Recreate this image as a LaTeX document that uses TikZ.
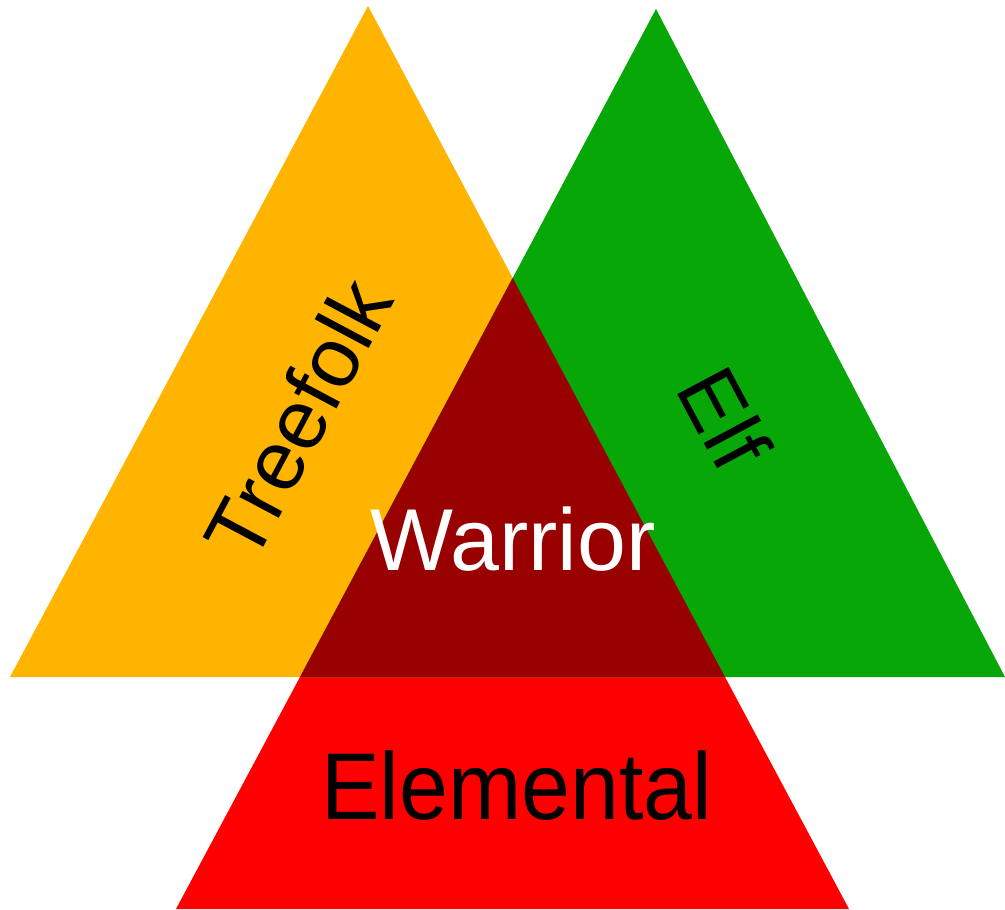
\documentclass[tikz,border=0pt]{standalone}
\usepackage{fontspec}
\setmainfont{Liberation Sans}
\definecolor{treefolkcol}{RGB}{255,180,0}
\definecolor{elfcol}{RGB}{8,167,8}
\definecolor{warriorcol}{RGB}{153,0,0}
\definecolor{elementalcol}{RGB}{255,0,0}
\begin{document}
\begin{tikzpicture}[every node/.style={font=\fontsize{24}{28}\selectfont},
  big/.style={font=\fontsize{25}{29}\selectfont}]
\useasboundingbox (0,0) rectangle (10.05,9.09);
% triangle corners
\coordinate (tleft) at (0.10,2.32);
\coordinate (ttop) at (3.68,9.03);
\coordinate (tright) at (7.25,2.32);
\coordinate (eleft) at (3.00,2.32);
\coordinate (etop) at (6.56,9.00);
\coordinate (eright) at (10.05,2.32);
\fill[elementalcol] (eleft) -- (tright) -- (8.49,0) -- (1.76,0) -- cycle;
\fill[treefolkcol] (tleft) -- (ttop) -- (tright) -- cycle;
\fill[elfcol] (eleft) -- (etop) -- (eright) -- cycle;
\begin{scope}
\clip (tleft) -- (ttop) -- (tright) -- cycle;
\fill[warriorcol] (eleft) -- (etop) -- (eright) -- cycle;
\end{scope}
\node[rotate=62] (treefolk) at (2.98,4.90) {Treefolk};
\node[rotate=-62] (elf) at (7.25,4.91) {Elf};
\node[big, text=white] (warrior) at (5.13,3.70) {Warrior};
\node[big, yscale=1.08] (elemental) at (5.165,1.23) {Elemental};
\end{tikzpicture}
\end{document}
